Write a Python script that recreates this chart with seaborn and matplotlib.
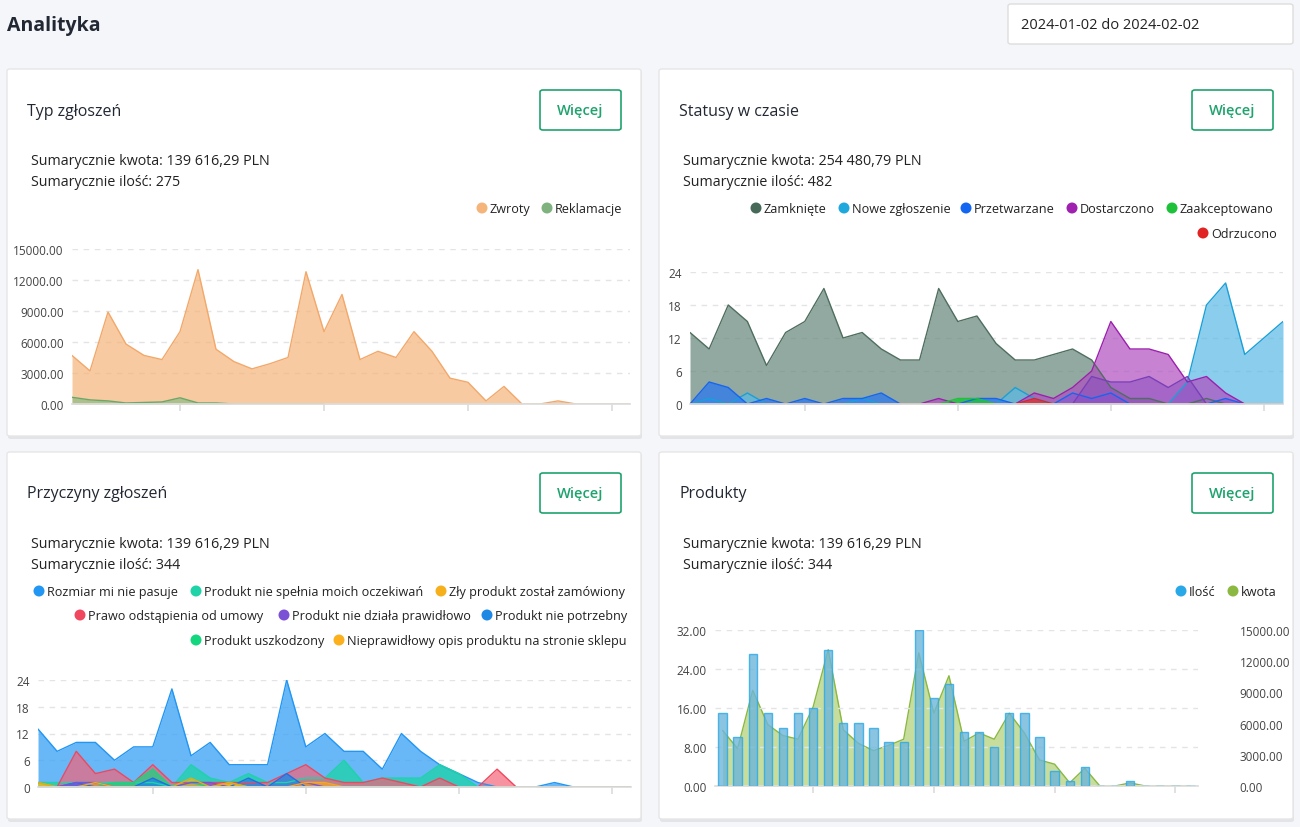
import matplotlib
matplotlib.use("Agg")
import matplotlib.pyplot as plt
import seaborn as sns
import numpy as np
from matplotlib.patches import FancyBboxPatch, Rectangle

sns.set_theme(style="white")
plt.rcParams['font.family'] = ['Open Sans', 'DejaVu Sans']

days = list(range(32))
zwroty = [4700,3200,8900,5800,4700,4300,7000,13000,5300,4100,3400,3900,4500,12800,7000,10600,
          4300,5100,4500,7000,5100,2500,2100,300,1700,0,0,300,0,0,0,0]
reklamacje = [650,400,300,100,150,200,600,100,100,0,0,0,0,0,0] + [np.nan]*17

zamkniete = [13,10,18,15,7,13,15,21,12,13,10,8,8,21,15,16,11,8,8,9,10,8,3,1,1,0,0,1,0,0,0,0]
nowe = [0,1,0,2,0,0,0,0,0,1,0,0,0,0,0,0,0,3,1,0,0,0,0,0,0,0,4,18,22,9,12,15]
przetwarzane = [0,4,3,0,1,0,1,0,1,1,2,0,0,0,0,1,1,0,0,0,2,1,2,0,0,0,0,0,1,0,0,0]
dostarczono = [0,0,0,0,0,0,0,0,0,0,0,0,0,1,0,0,0,0,2,1,3,6,15,10,10,9,4,5,2,0,0,0]
dostarczono2 = [0,0,0,0,0,0,0,0,0,0,0,0,0,0,0,0,0,0,0,0,0,5,4,4,5,3,5,0,0,0,0,0]
zaakceptowano = [0,0,0,0,0,0,0,0,0,0,0,0,0,0,1,1,0,0,0,0,0,0,0,0,0,0,0,0,0,0,0,0]
odrzucono = [0,0,0,0,0,0,0,0,0,0,0,0,0,0,0,0,0,0,1,0,0,0,0,0,0,0,0,0,0,0,0,0]

rozmiar = [13,8,10,10,6,9,9,22,7,10,5,5,5,24,9,12,8,8,4,12,8,5,3,1,0,0,0,1,0,0,0,0]
nie_spelnia = [1,1,1,1,1,1,1,0,5,2,1,3,1,1,2,2,6,1,2,2,2,5,3,0,0,0,0,0,0,0,0,0]
zly = [1,0,0,1,0,0,0,0,0,0,1,0,0,0,1,1,0,0,0,0,0,0,0,0,0,0,0,0,0,0,0,0]
prawo = [0,0,8,3,4,1,5,1,1,1,1,1,1,3,5,2,1,1,2,1,0,2,0,0,4,0,0,0,0,0,0,0]
dziala = [0,0,1,1,0,0,0,0,1,1,0,0,0,0,1,0,0,0,0,0,0,0,0,0,0,0,0,0,0,0,0,0]
niepotrzebny = [0,0,1,0,0,0,2,0,0,0,0,2,0,3,0,0,0,0,0,0,0,0,0,0,0,0,0,0,0,0,0,0]
uszkodzony = [0,0,0,0,1,1,4,0,1,0,0,0,0,0,0,0,0,0,0,0,0,0,0,0,0,0,0,0,0,0,0,0]
nieprawidlowy = [1,0,0,0,0,0,0,0,2,0,1,0,0,0,0,0,0,0,0,0,0,0,0,0,0,0,0,0,0,0,0,0]

ilosc = [15,10,27,15,12,15,16,28,13,13,12,9,9,32,18,21,11,11,8,15,15,10,3,1,4,0,0,1,0,0,0,0]
kwota = [z + (r if not np.isnan(r) else 0) for z, r in zip(zwroty, reklamacje)]

W, H = 1300, 828
fig = plt.figure(figsize=(13, 8.28), dpi=100)
fig.patch.set_facecolor('#f5f6fa')

def T(x, y, s, **kw):
    fig.text(x / W, 1 - (y + 1.5) / H, s, va='center', **kw)

def rect(l, t, r, b, fc, ec, lw=1, rad=3):
    p = FancyBboxPatch((l / W, 1 - b / H), (r - l) / W, (b - t) / H,
                       boxstyle=f"round,pad=0,rounding_size={rad/W}", fc=fc, ec=ec, lw=lw,
                       transform=fig.transFigure, zorder=0)
    fig.add_artist(p)

def AX(l, t, r, b):
    ax = fig.add_axes([l / W, 1 - b / H, (r - l) / W, (b - t) / H])
    ax.patch.set_alpha(0)
    for s in ['top', 'right', 'left']:
        ax.spines[s].set_visible(False)
    ax.spines['bottom'].set_color('#dddddd')
    ax.tick_params(axis='y', length=0, labelsize=8.5, colors='#444444', pad=6)
    ax.tick_params(axis='x', length=5, color='#dddddd', labelbottom=False, bottom=True)
    ax.grid(axis='y', ls=(0, (4, 4)), color='#e2e4e8', lw=1)
    ax.set_axisbelow(True)
    return ax

T(7, 25, "Analityka", fontsize=14, fontweight='bold', color='#222833')
rect(1008, 5, 1293, 45, 'white', '#dddddd')
T(1021, 24, "2024-01-02 do 2024-02-02", fontsize=10.5, color='#222')

cards = [(7, 70, 641, 437, "Typ zgłoszeń", "139 616,29 PLN", "275"),
         (659, 70, 1293, 437, "Statusy w czasie", "254 480,79 PLN", "482"),
         (7, 453, 641, 820, "Przyczyny zgłoszeń", "139 616,29 PLN", "344"),
         (659, 453, 1293, 820, "Produkty", "139 616,29 PLN", "344")]
for l, t, r, b, title, kw, il in cards:
    rect(l + 1, t + 2, r + 1, b + 3, '#e3e4e8', 'none')
    rect(l, t, r, b, 'white', '#e6e6e6')
    T(l + 20, t + 40, title, fontsize=11.5, color='#222833', fontweight='medium')
    rect(r - 101, t + 21, r - 20, t + 61, 'white', '#1fa36e', lw=1.2)
    T(r - 60.5, t + 40, "Więcej", fontsize=10.5, color='#1fa36e', ha='center', fontweight='semibold')
    T(l + 24, t + 90, f"Sumarycznie kwota: {kw}", fontsize=10.3, color='#222')
    T(l + 24, t + 111, f"Sumarycznie ilość: {il}", fontsize=10.3, color='#222')

def legend(items, y):
    for cx, label, col in items:
        fig.add_artist(matplotlib.patches.Ellipse((cx / W, 1 - (y + 1) / H), 11 / W, 11 / H, fc=col, ec='none',
                                                  transform=fig.transFigure))
        T(cx + 8, y, label, fontsize=9.1, color='#222')

def area(ax, x, y, line, fill, alpha=0.75, lw=1):
    y = np.array(y, dtype=float)
    m = ~np.isnan(y)
    xx = np.array(x)[m]; yy = y[m]
    ax.fill_between(xx, 0, yy, color=fill, alpha=alpha, lw=0)
    sns.lineplot(x=xx, y=yy, ax=ax, color=line, lw=lw)

# Chart 1
ax1 = AX(72, 250, 630, 405)
area(ax1, days, zwroty, '#f2a86a', '#f5b47a', 0.7)
area(ax1, days, reklamacje, '#6aa86a', '#7cb87c', 0.6)
ax1.set_xlim(0, 31); ax1.set_ylim(0, 15000)
ax1.set_yticks(range(0, 15001, 3000)); ax1.set_yticklabels([f"{v:.2f}" for v in range(0, 15001, 3000)])
ax1.set_xticks([6, 14, 22, 30])
legend([(482, "Zwroty", '#f5b47a'), (547, "Reklamacje", '#7fb27f')], 208)

# Chart 2
ax2 = AX(690, 273, 1283, 405)
area(ax2, days, zamkniete, '#4f6e5f', '#6d8d80', 0.75)
area(ax2, days, nowe, '#1aa0d8', '#59b9e6', 0.7)
area(ax2, days, przetwarzane, '#1565f0', '#2a78f0', 0.75)
area(ax2, days, dostarczono, '#9c1fae', '#b04ec0', 0.7)
area(ax2, days, dostarczono2, '#7a3fb8', '#8a4fc0', 0.55)
area(ax2, days, zaakceptowano, '#1ec23a', '#1ec23a', 0.8)
area(ax2, days, odrzucono, '#d8262a', '#e03030', 0.8)
ax2.set_xlim(0, 31); ax2.set_ylim(0, 24)
ax2.set_yticks([0, 6, 12, 18, 24])
ax2.set_xticks([6, 14, 22, 30])
legend([(756, "Zamknięte", '#46695a'), (844, "Nowe zgłoszenie", '#1fa8dc'), (966, "Przetwarzane", '#1266f1'),
        (1072, "Dostarczono", '#a020b0'), (1172, "Zaakceptowano", '#1ec23a')], 208)
legend([(1203, "Odrzucono", '#e02424')], 233)

# Chart 3
ax3 = AX(38, 681, 631, 788)
area(ax3, days, rozmiar, '#2196f3', '#42a5f5', 0.8)
area(ax3, days, nie_spelnia, '#1dd3a7', '#1dd3a7', 0.75)
area(ax3, days, prawo, '#f0475f', '#f46478', 0.7)
area(ax3, days, uszkodzony, '#14d67e', '#14d67e', 0.7)
area(ax3, days, niepotrzebny, '#1e6fe5', '#1e88e5', 0.8)
area(ax3, days, dziala, '#7b52d6', '#7b52d6', 0.7)
area(ax3, days, zly, '#f5a623', '#f5a623', 0.7)
area(ax3, days, nieprawidlowy, '#d4b01c', '#e8c020', 0.7)
sns.lineplot(x=days, y=[0]*32, ax=ax3, color='#8aa860', lw=2)
ax3.set_xlim(0, 31); ax3.set_ylim(0, 24)
ax3.set_yticks([0, 6, 12, 18, 24])
ax3.set_xticks([6, 14, 22, 30])
legend([(39, "Rozmiar mi nie pasuje", '#2196f3'), (196, "Produkt nie spełnia moich oczekiwań", '#1dd3a7'),
        (441, "Zły produkt został zamówiony", '#f5b01c')], 591)
legend([(80, "Prawo odstąpienia od umowy", '#f0475f'), (284, "Produkt nie działa prawidłowo", '#7b52d6'),
        (487, "Produkt nie potrzebny", '#1e88e5')], 615)
legend([(196, "Produkt uszkodzony", '#14d67e'), (339, "Nieprawidłowy opis produktu na stronie sklepu", '#fbb01c')], 640)

# Chart 4
ax4 = AX(715, 631, 1198, 787)
ax4b = ax4.twinx()
ax4b.patch.set_alpha(0)
for s in ax4b.spines.values():
    s.set_visible(False)
area(ax4b, days, kwota, '#8ab840', '#a8cc6a', 0.65)
ax4b.set_ylim(0, 15000)
ax4b.set_yticks(range(0, 15001, 3000)); ax4b.set_yticklabels([f"{v:.2f}" for v in range(0, 15001, 3000)])
ax4b.tick_params(axis='y', length=0, labelsize=8.5, colors='#444444', pad=30)
sns.barplot(x=days, y=ilosc, ax=ax4, native_scale=True, color='#5bbcec', alpha=0.8,
            edgecolor='#29a8e8', linewidth=1, width=0.55, zorder=3)
ax4.set_zorder(ax4b.get_zorder() + 1); ax4.patch.set_visible(False)
ax4.set_xlim(-0.5, 31.5); ax4.set_ylim(0, 32)
ax4.set_yticks([0, 8, 16, 24, 32]); ax4.set_yticklabels([f"{v:.2f}" for v in [0, 8, 16, 24, 32]])
ax4.set_xticks([6, 14, 22, 30])
ax4.tick_params(axis='x', labelbottom=False)
legend([(1181, "Ilość", '#29a8e8'), (1233, "kwota", '#8ab840')], 591)

fig.savefig("out.png", dpi=100, facecolor=fig.get_facecolor())
